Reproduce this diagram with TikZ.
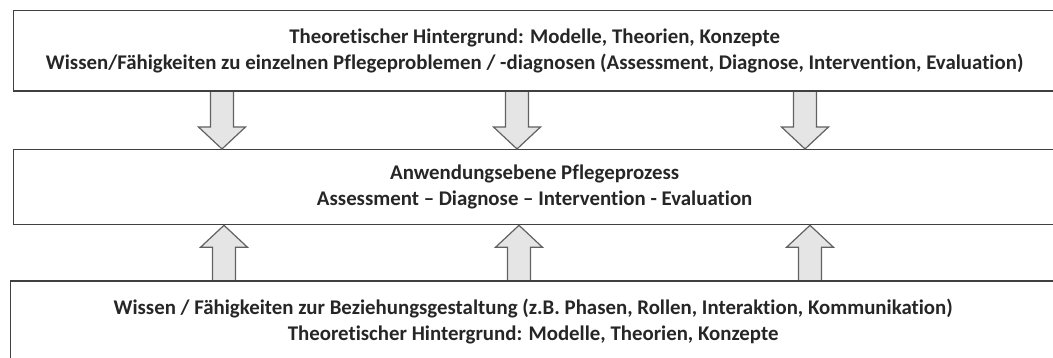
\documentclass[tikz,border=0pt]{standalone}
\usepackage{fontspec}
\setmainfont[Ligatures=NoCommon]{Carlito}
\usetikzlibrary{calc}

\tikzset{
  ebene/.style={draw=black!75, line width=1.3pt, fill=white, align=center,
    inner sep=0pt, font=\fontsize{20.85}{26}\selectfont\bfseries, text=black!85},
  blockarrow/.style={draw=black!62, line width=1.2pt, fill=black!10,
    line join=miter}
}

% Block arrow from a base coordinate to a tip coordinate (vertical)
\newcommand{\blockpfeil}[2]{%
  \draw[blockarrow] let \p1=(#1), \p2=(#2), \n1={sign(\y2-\y1)} in
    (\x1-11.5pt,\y1) -- (\x1-11.5pt,\y2-22pt*\n1) -- (\x1-23.5pt,\y2-22pt*\n1)
    -- (\x2,\y2) -- (\x1+23.5pt,\y2-22pt*\n1) -- (\x1+11.5pt,\y2-22pt*\n1)
    -- (\x1+11.5pt,\y1);
}

\begin{document}
\begin{tikzpicture}[x=1pt,y=1pt]
  \useasboundingbox (0,0) rectangle (1053,358);

  % three levels
  \node[ebene, minimum width=1042pt, minimum height=80pt, anchor=north west]
    (theorie) at (13,348)
    {Theoretischer Hintergrund: Modelle, Theorien, Konzepte\\
     Wissen/Fähigkeiten zu einzelnen Pflegeproblemen / -diagnosen (Assessment, Diagnose, Intervention, Evaluation)};
  \node[ebene, minimum width=1042pt, minimum height=75pt, anchor=north west]
    (prozess) at (13,209)
    {Anwendungsebene Pflegeprozess\\
     Assessment – Diagnose – Intervention - Evaluation};
  \node[ebene, minimum width=1045pt, minimum height=80pt, anchor=north west]
    (beziehung) at (10,77)
    {Wissen / Fähigkeiten zur Beziehungsgestaltung (z.B. Phasen, Rollen, Interaktion, Kommunikation)\\
     Theoretischer Hintergrund: Modelle, Theorien, Konzepte};

  % arrow end points on the box borders
  \coordinate (d1s) at (222,0 |- theorie.south);
  \coordinate (d1t) at (222,0 |- prozess.north);
  \coordinate (d2s) at (517,0 |- theorie.south);
  \coordinate (d2t) at (517,0 |- prozess.north);
  \coordinate (d3s) at (805,0 |- theorie.south);
  \coordinate (d3t) at (805,0 |- prozess.north);
  \coordinate (u1s) at (224,0 |- beziehung.north);
  \coordinate (u1t) at (224,0 |- prozess.south);
  \coordinate (u2s) at (519,0 |- beziehung.north);
  \coordinate (u2t) at (519,0 |- prozess.south);
  \coordinate (u3s) at (810,0 |- beziehung.north);
  \coordinate (u3t) at (810,0 |- prozess.south);

  \blockpfeil{d1s}{d1t}
  \blockpfeil{d2s}{d2t}
  \blockpfeil{d3s}{d3t}
  \blockpfeil{u1s}{u1t}
  \blockpfeil{u2s}{u2t}
  \blockpfeil{u3s}{u3t}

  % box borders drawn again over the arrow bases
  \draw[black!75, line width=1.3pt] (theorie.south west) -- (theorie.south east);
  \draw[black!75, line width=1.3pt] (beziehung.north west) -- (beziehung.north east);
\end{tikzpicture}
\end{document}
